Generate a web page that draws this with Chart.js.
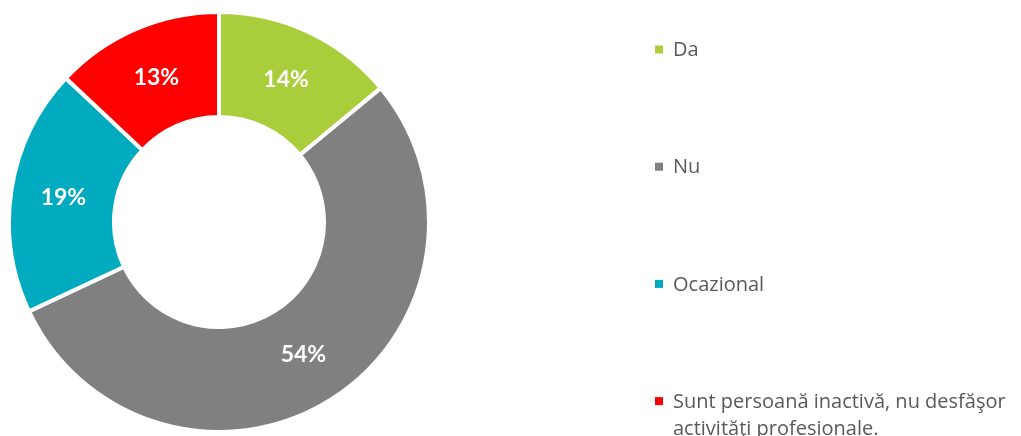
<!DOCTYPE html>
<html>
<head>
<meta charset="utf-8">
<script src="https://cdn.jsdelivr.net/npm/chart.js@4.4.1/dist/chart.umd.min.js"></script>
<style>
  html, body { margin: 0; padding: 0; background: #fff; overflow: hidden; }
  #wrap { width: 1021px; height: 436px; position: relative; }
</style>
</head>
<body>
<div id="wrap"><canvas id="chart"></canvas></div>
<script>
const categories = ["Da", "Nu", "Ocazional", ["Sunt persoană inactivă, nu desfăşor", "activităţi profesionale."]];
const shares = [14, 54, 19, 13];
const sliceColors = ["#aacd3b", "#808080", "#00abbf", "#ff0000"];

const LABEL_FONT = "Lato, 'Open Sans', sans-serif";
const LEGEND_FONT = "'Open Sans', Lato, sans-serif";

// percent labels in the middle of each ring segment
const sliceLabels = {
  id: "sliceLabels",
  afterDatasetsDraw(chart) {
    const ctx = chart.ctx;
    const meta = chart.getDatasetMeta(0);
    ctx.save();
    ctx.font = "bold 23px " + LABEL_FONT;
    ctx.fillStyle = "#ffffff";
    ctx.textAlign = "center";
    ctx.textBaseline = "middle";
    meta.data.forEach((arc, i) => {
      const p = arc.getCenterPoint();
      ctx.fillText(shares[i] + "%", p.x, p.y);
    });
    ctx.restore();
  }
};

// legend on the right, items spread over the full height
const sideLegend = {
  id: "sideLegend",
  afterDraw(chart) {
    const ctx = chart.ctx;
    const x0 = 655, firstY = 49.5, step = 117.2, lineH = 27;
    ctx.save();
    ctx.font = "20px " + LEGEND_FONT;
    ctx.textBaseline = "middle";
    chart.data.labels.forEach((label, i) => {
      const y = firstY + i * step;
      ctx.fillStyle = sliceColors[i];
      ctx.fillRect(x0, y - 4, 8, 8);
      ctx.fillStyle = "#595959";
      const lines = Array.isArray(label) ? label : [label];
      lines.forEach((line, j) => ctx.fillText(line, x0 + 18, y + 1 + j * lineH));
    });
    ctx.restore();
  }
};

new Chart(document.getElementById("chart"), {
  type: "doughnut",
  data: {
    labels: categories,
    datasets: [{
      data: shares,
      backgroundColor: sliceColors,
      borderColor: "#ffffff",
      borderWidth: 4
    }]
  },
  options: {
    responsive: true,
    maintainAspectRatio: false,
    animation: false,
    cutout: "50%",
    layout: { padding: { left: 7, top: 10, bottom: 2, right: 590 } },
    plugins: {
      legend: { display: false },
      tooltip: { enabled: false }
    }
  },
  plugins: [sliceLabels, sideLegend]
});
</script>
</body>
</html>
